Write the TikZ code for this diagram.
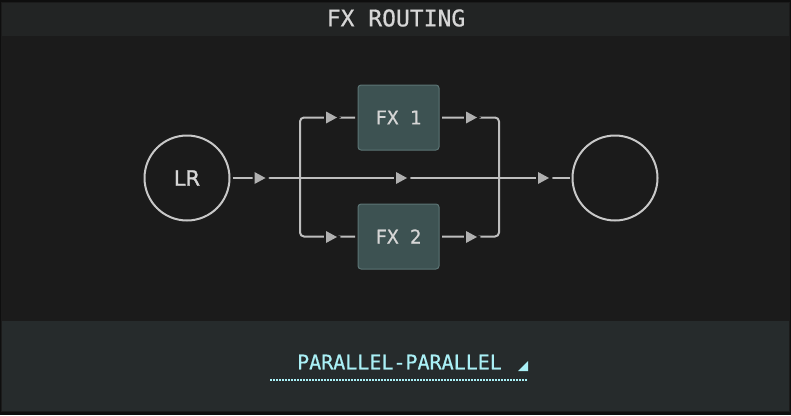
\documentclass[tikz,border=0pt]{standalone}
\usepackage{fontspec}
\setmainfont{DejaVu Sans}
\setmonofont{DejaVu Sans Mono}
\newfontfamily\ringfont[FakeBold=1.2]{DejaVu Sans}
\newfontfamily\panelfont[FakeBold=0.6]{DejaVu Sans Mono}
\usetikzlibrary{calc,positioning}
\definecolor{fxblack}{RGB}{14,14,14}
\definecolor{fxbg}{RGB}{27,27,27}
\definecolor{fxhead}{RGB}{34,36,36}
\definecolor{fxfoot}{RGB}{38,43,44}
\definecolor{fxline}{RGB}{190,190,190}
\definecolor{fxtip}{RGB}{176,176,176}
\definecolor{fxring}{RGB}{200,200,200}
\definecolor{fxbox}{RGB}{61,82,82}
\definecolor{fxboxedge}{RGB}{92,116,116}
\definecolor{fxtext}{RGB}{214,214,214}
\definecolor{fxcyan}{RGB}{170,240,246}

\tikzset{
  wire/.style={fxline, line width=2pt},
  ring/.style={circle, draw=fxring, line width=2pt, minimum size=85pt, inner sep=0pt, outer sep=3pt,
    text=fxtext, font=\ringfont\fontsize{21}{21}\selectfont},
  fxunit/.style={rectangle, rounded corners=3pt, fill=fxbox, draw=fxboxedge, line width=1pt,
    minimum width=81pt, minimum height=65pt, outer sep=3pt, text=fxtext,
    font=\panelfont\fontsize{19}{19}\selectfont},
}
\newcommand\flowtip[2]{%
  \coordinate (#1) at (#2);
  \fill[fxtip, preaction={draw=fxbg, line width=4pt}] ($(#1)+(-5,-6)$) -- ($(#1)+(6,0)$) -- ($(#1)+(-5,6)$) -- cycle;}

\begin{document}
\begin{tikzpicture}[x=1pt,y=-1pt]
% Panels
\fill[fxblack] (0,0) rectangle (791,415);
\fill[fxbg] (1,2) rectangle (790,412);
\fill[fxhead] (2,3) rectangle (789,36);
\fill[fxfoot] (2,321) rectangle (789,411);
\useasboundingbox (0,0) rectangle (791,415);
\node[text=fxtext, font=\panelfont\fontsize{23}{23}\selectfont] (title) at (396,18) {FX ROUTING};
% Nodes
\node[ring] (lr) at (187,178) {LR};
\node[ring] (out) at (615,178) {};
\node[fxunit] (fx1) at (398.5,117.5) {FX 1};
\node[fxunit] (fx2) at (398.5,236.5) {FX 2};
\coordinate (split) at (300,178);
\coordinate (merge) at (499,178);
% Wires
\draw[wire] (lr) -- (out);
\draw[wire, rounded corners=4pt] (fx1) -| (split);
\draw[wire, rounded corners=4pt] (fx2) -| (split);
\draw[wire, rounded corners=4pt] (fx1) -| (merge);
\draw[wire, rounded corners=4pt] (fx2) -| (merge);
% Arrow tips
\flowtip{tin}{259.5,178}
\flowtip{tmid}{401,178}
\flowtip{tout}{543,178}
\flowtip{ta}{331,117.5}
\flowtip{tb}{331,237}
\flowtip{tc}{471,117.5}
\flowtip{td}{471,237}
% Mode selector
\node[text=fxcyan, font=\panelfont\fontsize{20}{20}\selectfont] (mode) at (399.5,362) {PARALLEL-PARALLEL};
\fill[fxcyan] (518,371) -- (528,371) -- (528,361) -- cycle;
\coordinate (ulA) at (270,380);
\coordinate (ulB) at (528,380);
\draw[fxcyan, line width=1.5pt, dash pattern=on 1.5pt off 1.5pt] (ulA) -- (ulB);
\end{tikzpicture}
\end{document}
